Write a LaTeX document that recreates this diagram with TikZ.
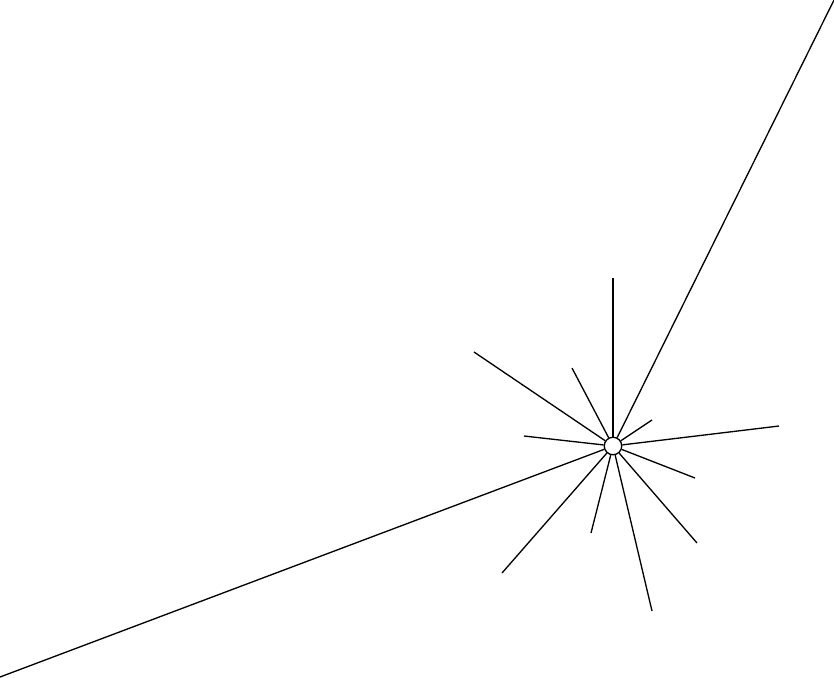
\documentclass[tikz,border=0pt]{standalone}
\begin{document}
\begin{tikzpicture}[x=0.02cm, y=-0.02cm, line width=0.75pt]
    % Frame
    \useasboundingbox (0,0) rectangle (834,677);

    % Hub
    \node[circle, draw, fill=white, inner sep=0pt, minimum size=0.35cm] (hub) at (613,446) {};

    % Long rays
    \coordinate (ne) at (834,0);
    \coordinate (sw) at (0,677);
    \draw (hub) -- (ne);
    \draw (hub) -- (sw);

    % Short rays
    \coordinate (up) at (613,278);
    \coordinate (nwA) at (474,352);
    \coordinate (nwB) at (572,368);
    \coordinate (neA) at (652,420);
    \coordinate (west) at (524,436);
    \coordinate (east) at (779,426);
    \coordinate (seA) at (695,478);
    \coordinate (swA) at (502,573);
    \coordinate (swB) at (591,533);
    \coordinate (down) at (652,611);
    \coordinate (seB) at (697,543);
    \draw (hub) -- (up);
    \draw (hub) -- (nwA);
    \draw (hub) -- (nwB);
    \draw (hub) -- (neA);
    \draw (hub) -- (west);
    \draw (hub) -- (east);
    \draw (hub) -- (seA);
    \draw (hub) -- (swA);
    \draw (hub) -- (swB);
    \draw (hub) -- (down);
    \draw (hub) -- (seB);
\end{tikzpicture}
\end{document}
